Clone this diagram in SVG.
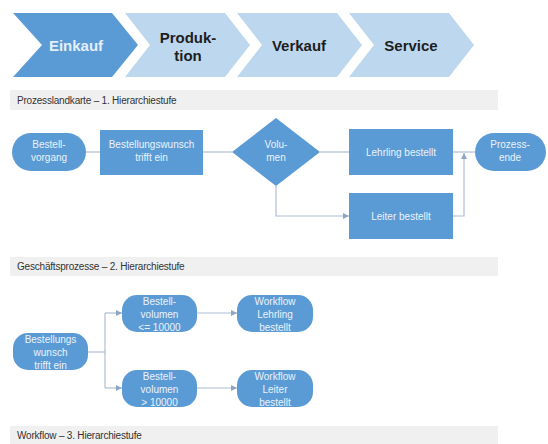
<svg xmlns="http://www.w3.org/2000/svg" width="548" height="444" viewBox="0 0 548 444">
<style>
.chev-d{fill:#5B9BD5}
.chev-l{fill:#BDD7EE}
.ct{font-family:"Liberation Sans",Arial,sans-serif;font-weight:bold;font-size:15px;text-anchor:middle}
.band{fill:#F0F0F0}
.bt{font-family:"Liberation Sans",Arial,sans-serif;font-size:10px;fill:#333;letter-spacing:-0.2px}
.n{fill:#5B9BD5}
.nt{font-family:"Liberation Sans",Arial,sans-serif;font-size:10px;fill:#EAF2FB;text-anchor:middle}
.c{fill:none;stroke:#AEBFD4;stroke-width:1.2}
</style>
<defs>
<marker id="ah" viewBox="0 0 6 6" refX="6" refY="3" markerWidth="5" markerHeight="5" orient="auto">
<path d="M0,0 L6,3 L0,6 z" fill="#8EA6C4"/>
</marker>
</defs>

<g id="chev-einkauf">
<polygon class="chev-d" points="13,13 112,13 138,45 112,77 13,77 42,45"/>
<text class="ct" x="76" y="51" fill="#E3EEF9">Einkauf</text>
</g>
<g id="chev-produktion">
<polygon class="chev-l" points="125,13 225,13 250,45 225,77 125,77 150,45"/>
<text class="ct" x="188" y="43" fill="#1E1E1E">Produk-</text>
<text class="ct" x="188" y="61" fill="#1E1E1E">tion</text>
</g>
<g id="chev-verkauf">
<polygon class="chev-l" points="237,13 337,13 362,45 337,77 237,77 262,45"/>
<text class="ct" x="299" y="51" fill="#1E1E1E">Verkauf</text>
</g>
<g id="chev-service">
<polygon class="chev-l" points="349,13 449,13 474,45 449,77 349,77 374,45"/>
<text class="ct" x="411" y="51" fill="#1E1E1E">Service</text>
</g>

<g id="band1">
<rect class="band" x="10" y="90" width="488" height="20"/>
<text class="bt" x="17" y="104">Prozesslandkarte – 1. Hierarchiestufe</text>
</g>
<g id="band2">
<rect class="band" x="10" y="257" width="488" height="19"/>
<text class="bt" x="17" y="270">Geschäftsprozesse – 2. Hierarchiestufe</text>
</g>
<g id="band3">
<rect class="band" x="10" y="426" width="488" height="18"/>
<text class="bt" x="17" y="439">Workflow – 3. Hierarchiestufe</text>
</g>

<g id="connectors">
<line class="c" x1="86" y1="152" x2="100" y2="152"/>
<line class="c" x1="203" y1="152" x2="232" y2="152"/>
<line class="c" x1="320" y1="152" x2="349" y2="152"/>
<polyline class="c" points="276,186 276,216 349,216" marker-end="url(#ah)"/>
<line class="c" x1="453" y1="152" x2="475" y2="152"/>
<polyline class="c" points="453,216 464,216 464,153" marker-end="url(#ah)"/>
<polyline class="c" points="88,352 105,352"/>
<polyline class="c" points="105,313 105,388"/>
<line class="c" x1="105" y1="313" x2="122" y2="313" marker-end="url(#ah)"/>
<line class="c" x1="105" y1="388" x2="122" y2="388" marker-end="url(#ah)"/>
<line class="c" x1="197" y1="313" x2="237" y2="313" marker-end="url(#ah)"/>
<line class="c" x1="197" y1="388" x2="237" y2="388" marker-end="url(#ah)"/>
</g>

<g id="n-bestellvorgang">
<rect class="n" x="12" y="133" width="74" height="38" rx="19"/>
<text class="nt" x="49" y="148">Bestell-</text>
<text class="nt" x="49" y="161">vorgang</text>
</g>
<g id="n-wunsch">
<rect class="n" x="100" y="130" width="103" height="45"/>
<text class="nt" x="151.5" y="148">Bestellungswunsch</text>
<text class="nt" x="151.5" y="161">trifft ein</text>
</g>
<g id="n-volumen">
<polygon class="n" points="276,118 320,152 276,186 232,152"/>
<text class="nt" x="276" y="148">Volu-</text>
<text class="nt" x="276" y="161">men</text>
</g>
<g id="n-lehrling">
<rect class="n" x="349" y="129" width="104" height="46"/>
<text class="nt" x="401" y="156">Lehrling bestellt</text>
</g>
<g id="n-leiter">
<rect class="n" x="349" y="193" width="104" height="46"/>
<text class="nt" x="401" y="220">Leiter bestellt</text>
</g>
<g id="n-prozessende">
<rect class="n" x="475" y="133" width="71" height="38" rx="19"/>
<text class="nt" x="510" y="148">Prozess-</text>
<text class="nt" x="510" y="161">ende</text>
</g>

<g id="l2-wunsch">
<rect class="n" x="13" y="333" width="75" height="37" rx="15"/>
<text class="nt" x="50.5" y="343">Bestellungs</text>
<text class="nt" x="50.5" y="356">wunsch</text>
<text class="nt" x="50.5" y="369">trifft ein</text>
</g>
<g id="l2-vol-le">
<rect class="n" x="122" y="295" width="75" height="37" rx="15"/>
<text class="nt" x="159.5" y="305">Bestell-</text>
<text class="nt" x="159.5" y="318">volumen</text>
<text class="nt" x="159.5" y="331">&lt;= 10000</text>
</g>
<g id="l2-vol-gt">
<rect class="n" x="122" y="370" width="75" height="37" rx="15"/>
<text class="nt" x="159.5" y="380">Bestell-</text>
<text class="nt" x="159.5" y="393">volumen</text>
<text class="nt" x="159.5" y="406">&gt; 10000</text>
</g>
<g id="l2-wf-lehrling">
<rect class="n" x="237" y="295" width="76" height="37" rx="15"/>
<text class="nt" x="275" y="305">Workflow</text>
<text class="nt" x="275" y="318">Lehrling</text>
<text class="nt" x="275" y="331">bestellt</text>
</g>
<g id="l2-wf-leiter">
<rect class="n" x="237" y="370" width="76" height="37" rx="15"/>
<text class="nt" x="275" y="380">Workflow</text>
<text class="nt" x="275" y="393">Leiter</text>
<text class="nt" x="275" y="406">bestellt</text>
</g>
</svg>
